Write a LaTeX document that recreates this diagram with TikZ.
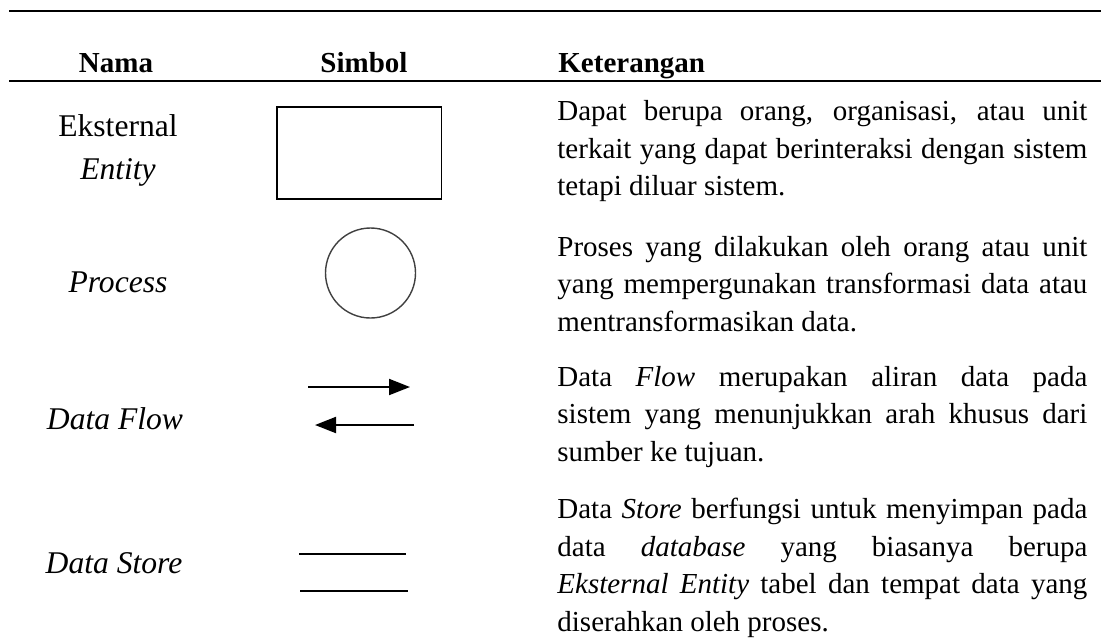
\documentclass[tikz,border=0pt]{standalone}
\usepackage{fontspec}
\setmainfont{Liberation Serif}
\usetikzlibrary{arrows.meta}
\hyphenpenalty=10000
\tolerance=9999
\tikzset{
  judul/.style={font=\fontsize{14.5pt}{18pt}\selectfont\bfseries, inner sep=0pt},
  nama/.style={font=\fontsize{15.8pt}{19pt}\selectfont, inner sep=0pt, anchor=base},
  ket/.style={font=\fontsize{14.5pt}{18.75pt}\selectfont,
    text width=265pt, align=justify, inner sep=0pt, anchor=base west},
  garis/.style={line width=1pt},
  alir/.style={line width=1pt, arrows={-Triangle[length=10.5pt,width=8pt]}},
  simpan/.style={line width=0.9pt},
}
\begin{document}
\begin{tikzpicture}[x=0.5pt,y=-0.5pt]
    \useasboundingbox (0,0) rectangle (1101,638);

    % garis tabel
    \draw[garis] (9,11) -- (1101,11);
    \draw[garis] (9,81) -- (1101,81);

    \node[judul, anchor=base] (hNama) at (116,72.7) {Nama};
    \node[judul, anchor=base] (hSimbol) at (364,72.7) {Simbol};
    \node[judul, anchor=base west] (hKet) at (558,72.7) {Keterangan};

    % kolom nama
    \node[nama] (nEks) at (118,136.7) {Eksternal};
    \node[nama] (nEnt) at (118,179) {\textit{Entity}};
    \node[nama] (nPro) at (118,292.7) {\textit{Process}};
    \node[nama] (nFlow) at (115,429) {\textit{Data Flow}};
    \node[nama] (nStore) at (114,573) {\textit{Data Store}};

    % kolom simbol
    \node[draw, line width=0.8pt, minimum width=82.2pt, minimum height=45.9pt] (entitas) at (359.3,153.1) {};
    \node[draw=black!75, circle, line width=0.7pt, inner sep=0pt, minimum size=45pt] (proses) at (370.5,273) {};

    \coordinate (f1a) at (308,387);
    \coordinate (f1b) at (410,387);
    \coordinate (f2a) at (414,425);
    \coordinate (f2b) at (315,425);
    \draw[alir] (f1a) -- (f1b);
    \draw[alir] (f2a) -- (f2b);

    \coordinate (s1a) at (299,554);
    \coordinate (s1b) at (406,554);
    \coordinate (s2a) at (300,591);
    \coordinate (s2b) at (408,591);
    \draw[simpan] (s1a) -- (s1b);
    \draw[simpan] (s2a) -- (s2b);

    % kolom keterangan
    \node[ket] (kEks) at (557,120.6) {Dapat berupa orang, organisasi, atau unit\linebreak
      terkait yang dapat berinteraksi dengan sistem\linebreak tetapi diluar sistem.};
    \node[ket] (kPro) at (557,256) {Proses yang dilakukan oleh orang atau unit\linebreak
      yang mempergunakan transformasi data atau\linebreak mentransformasikan data.};
    \node[ket] (kFlow) at (557,386) {Data \textit{Flow} merupakan aliran data pada\linebreak
      sistem yang menunjukkan arah khusus dari\linebreak sumber ke tujuan.};
    \node[ket] (kStore) at (557,518.7) {Data \textit{Store} berfungsi untuk menyimpan pada\linebreak
      data \textit{database} yang biasanya berupa\linebreak
      \textit{Eksternal Entity} tabel dan tempat data yang\linebreak diserahkan oleh proses.};
\end{tikzpicture}
\end{document}
